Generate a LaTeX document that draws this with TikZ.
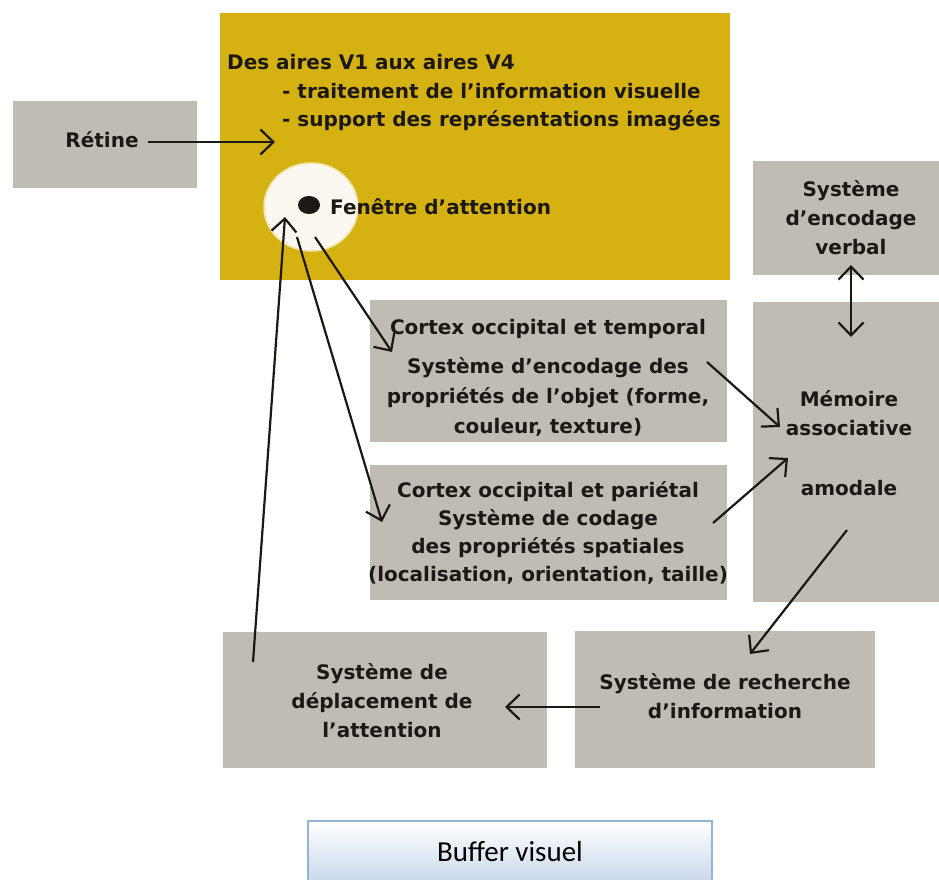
\documentclass[tikz,border=0pt]{standalone}
\usepackage{fontspec}
\usetikzlibrary{arrows.meta,shapes.geometric}
\newfontfamily\dvbold{DejaVu Sans}[Ligatures=TeX]
\newfontfamily\bufont{Carlito}

\definecolor{boxgray}{RGB}{192,188,180}
\definecolor{areayellow}{RGB}{213,178,17}
\definecolor{windowcream}{RGB}{250,248,240}
\definecolor{inkdark}{RGB}{28,24,20}
\definecolor{bufline}{RGB}{149,179,215}
\definecolor{bufbottom}{RGB}{184,204,228}

\tikzset{
  gbox/.style={rectangle, fill=boxgray, draw=none, inner sep=0pt},
  lbl/.style={text=inkdark, align=center, inner sep=0pt,
    font=\dvbold\bfseries\fontsize{20}{29}\selectfont},
  lline/.style={lbl, anchor=west},
  arr/.style={-{Straight Barb[length=13pt,width=25pt]}, line width=2.2pt, draw=inkdark},
  dblarr/.style={{Straight Barb[length=13pt,width=25pt]}-{Straight Barb[length=13pt,width=25pt]}, line width=2.2pt, draw=inkdark},
}

\begin{document}
\begin{tikzpicture}[x=1pt,y=-1pt]
\useasboundingbox (0,0) rectangle (939,880);
\clip (0,0) rectangle (939,880);
\fill[white] (0,0) rectangle (939,880);

% visual areas V1 to V4
\node[rectangle, fill=areayellow, inner sep=0pt, minimum width=510, minimum height=267] (aires) at (475,146.5) {};
\node[lline] (airesT1) at (227,62) {Des aires V1 aux aires V4};
\node[lline] (airesT2) at (282,91) {- traitement de l'information visuelle};
\node[lline] (airesT3) at (282,121) {- support des représentations imagées};

% attention window
\node[ellipse, fill=windowcream, draw=areayellow!35!white, line width=1.5pt, inner sep=0pt, minimum width=94, minimum height=88] (fenetre) at (311,207) {};
\node[ellipse, fill=inkdark, inner sep=0pt, minimum width=22, minimum height=18] (point) at (309,205) {};
\node[lline] (fenetreT) at (330,207) {Fenêtre d'attention};

% retina
\node[gbox, minimum width=184, minimum height=87] (retine) at (105,144.5) {};
\node[lbl] (retineT) at (102,140) {Rétine};

% verbal encoding
\node[gbox, minimum width=196, minimum height=114] (verbal) at (851,218) {};
\node[lbl] (verbalT) at (851,218) {Système\\d'encodage\\verbal};

% associative memory
\node[gbox, minimum width=196, minimum height=300] (memoire) at (851,452) {};
\node[lbl] (memoireT) at (849,443) {Mémoire\\associative\\[31pt]amodale};

% ventral pathway
\node[gbox, minimum width=357, minimum height=142] (temporal) at (548.5,371) {};
\node[lbl, font=\dvbold\bfseries\fontsize{20}{30}\selectfont] (temporalT) at (548,377.5)
  {Cortex occipital et temporal\\[9pt]Système d'encodage des\\propriétés de l'objet (forme,\\couleur, texture)};

% dorsal pathway
\node[gbox, minimum width=357, minimum height=135] (parietal) at (548.5,532.5) {};
\node[lbl, font=\dvbold\bfseries\fontsize{20}{28}\selectfont] (parietalT) at (548,533)
  {Cortex occipital et pariétal\\Système de codage\\des propriétés spatiales\\(localisation, orientation, taille)};

% attention shift
\node[gbox, minimum width=324, minimum height=136] (deplacement) at (385,700) {};
\node[lbl] (deplacementT) at (382,701) {Système de\\déplacement de\\l'attention};

% information lookup
\node[gbox, minimum width=300, minimum height=137] (recherche) at (725,699.5) {};
\node[lbl] (rechercheT) at (725,696.5) {Système de recherche\\d'information};

% visual buffer caption
\node[rectangle, top color=white, bottom color=bufbottom, draw=bufline, line width=1.5pt,
  inner sep=0pt, minimum width=404, minimum height=80] (buffer) at (510,861) {};
\node[font=\bufont\fontsize{29}{34}\selectfont, text=black, inner sep=0pt] (bufferT) at (510,852) {Buffer visuel};

% connector end points
\coordinate (retOut) at (148,142);
\coordinate (retIn) at (275,142);
\coordinate (depOut) at (253,662);
\coordinate (fenIn) at (285,217);
\coordinate (fenOutA) at (297,237);
\coordinate (parIn) at (382,522);
\coordinate (fenOutB) at (315,237);
\coordinate (tmpIn) at (392,352);
\coordinate (tmpOut) at (707,362);
\coordinate (memInA) at (780,427);
\coordinate (parOut) at (713,523);
\coordinate (memInB) at (788,458);
\coordinate (verTop) at (851,265);
\coordinate (memTop) at (851,337);
\coordinate (memOut) at (847,530);
\coordinate (recIn) at (750,654);
\coordinate (recOut) at (600,707);
\coordinate (depIn) at (505,707);

% connectors
\draw[arr] (retOut) -- (retIn);
\draw[arr] (depOut) -- (fenIn);
\draw[arr] (fenOutA) -- (parIn);
\draw[arr] (fenOutB) -- (tmpIn);
\draw[arr] (tmpOut) -- (memInA);
\draw[arr] (parOut) -- (memInB);
\draw[dblarr] (verTop) -- (memTop);
\draw[arr] (memOut) -- (recIn);
\draw[arr] (recOut) -- (depIn);
\end{tikzpicture}
\end{document}
